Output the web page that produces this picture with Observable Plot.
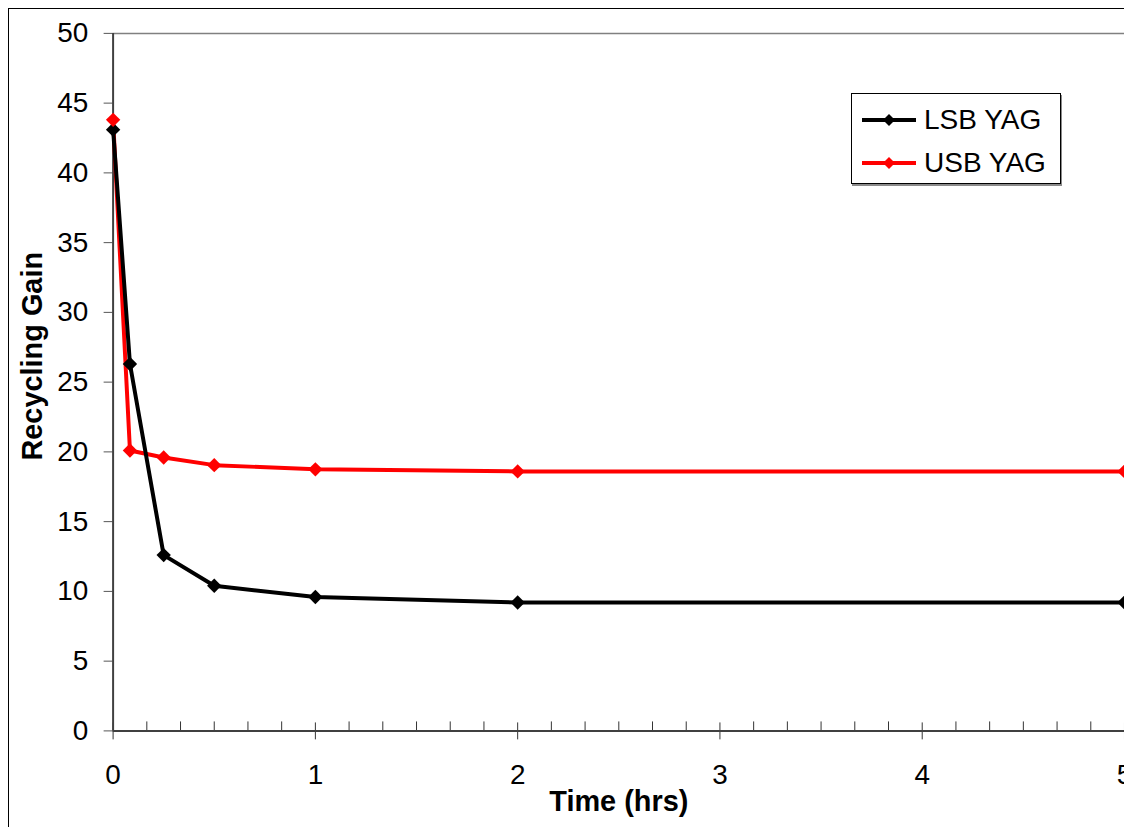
<!DOCTYPE html>
<html><head><meta charset="utf-8">
<script src="https://cdn.jsdelivr.net/npm/d3@7"></script>
<script src="https://cdn.jsdelivr.net/npm/@observablehq/plot@0.6"></script>
<style>
body{margin:0;overflow:hidden;background:#fff;font-family:"Liberation Sans",Arial,sans-serif;}
#wrap{position:relative;width:1124px;height:827px;overflow:hidden;}
#wrap > svg{position:absolute;left:0;top:0;}
#border{position:absolute;left:8px;top:8px;width:1200px;height:900px;border:1.5px solid #000;pointer-events:none}
#legend{position:absolute;left:851px;top:93px;width:208px;height:89px;border:1.5px solid #000;background:#fff;box-shadow:1px 2px 0 #8a8a8a;}
.item{position:absolute;left:9px;height:40px;display:flex;align-items:center;font-size:28px;color:#000;white-space:nowrap;}
.item svg{margin-right:7px;}
</style>
</head><body>
<div id="wrap"><div id="border"></div></div>
<script>
const times = [0, 1/12, 0.25, 0.5, 1, 2, 5];
const lsbGain = [43.1, 26.3, 12.6, 10.4, 9.6, 9.2, 9.2];
const usbGain = [43.8, 20.1, 19.6, 19.05, 18.75, 18.6, 18.6];
const seriesNames = ["LSB YAG", "USB YAG"];
const seriesColors = ["#000000", "#ff0000"];
const xTicks = [0, 1, 2, 3, 4, 5];
const yTicks = [0, 5, 10, 15, 20, 25, 30, 35, 40, 45, 50];
const xLabel = "Time (hrs)";
const yLabel = "Recycling Gain";

const lsb = times.map((t, i) => ({t, v: lsbGain[i]}));
const usb = times.map((t, i) => ({t, v: usbGain[i]}));
const minorTicks = d3.range(0, 31).map(k => k / 6).filter(v => Math.abs(v - Math.round(v)) > 1e-6);

const chart = Plot.plot({
  width: 1128, height: 827,
  marginLeft: 113, marginRight: 0, marginTop: 33, marginBottom: 94,
  style: {fontFamily: '"Liberation Sans", Arial, sans-serif', background: "transparent"},
  x: {domain: [0, 5]},
  y: {domain: [0, 50]},
  marks: [
    Plot.ruleY([50], {stroke: "#808080", strokeWidth: 1.5}),
    Plot.axisY({ticks: yTicks, tickSize: 9, tickPadding: 16, fontSize: 28, label: null, tickFormat: d3.format("d"), stroke: "#555", fill: "#000"}),
    Plot.axisX({ticks: xTicks, tickSize: 0, tickPadding: 33, fontSize: 28, label: null, tickFormat: d3.format("d"), fill: "#000"}),
    Plot.axisX({ticks: minorTicks, tickSize: 9, dy: -9, tickFormat: () => "", label: null, stroke: "#333"}),
    Plot.axisX({ticks: xTicks, tickSize: 17, dy: -8, tickFormat: () => "", label: null, stroke: "#333"}),
    Plot.ruleX([0], {stroke: "#404040", strokeWidth: 2}),
    Plot.ruleY([0], {stroke: "#404040", strokeWidth: 2}),
    Plot.line(usb, {x: "t", y: "v", stroke: seriesColors[1], strokeWidth: 4}),
    Plot.line(lsb, {x: "t", y: "v", stroke: seriesColors[0], strokeWidth: 4}),
    Plot.dot(lsb, {x: "t", y: "v", symbol: "diamond2", r: 6.5, fill: seriesColors[0]}),
    Plot.dot(usb, {x: "t", y: "v", symbol: "diamond2", r: 6.5, fill: seriesColors[1]}),
    Plot.text([yLabel], {frameAnchor: "left", textAnchor: "middle", lineAnchor: "middle", rotate: -90, dx: -81, dy: -26, fontSize: 29, fontWeight: "bold", fill: "#000"}),
    Plot.text([xLabel], {frameAnchor: "bottom", textAnchor: "middle", lineAnchor: "middle", dy: 71, fontSize: 29, fontWeight: "bold", fill: "#000"})
  ]
});
const wrap = document.getElementById("wrap");
wrap.insertBefore(chart, wrap.firstChild);

const legend = document.createElement("div");
legend.id = "legend";
seriesNames.forEach((name, i) => {
  const it = document.createElement("div");
  it.className = "item";
  it.style.top = (6 + i * 43) + "px";
  const c = seriesColors[i];
  it.innerHTML = `<svg width="56" height="20"><line x1="1" y1="10" x2="55" y2="10" stroke="${c}" stroke-width="4"/><path d="M28,4 L34,10 L28,16 L22,10Z" fill="${c}"/></svg><span>${name}</span>`;
  legend.appendChild(it);
});
wrap.appendChild(legend);
</script>
</body></html>
